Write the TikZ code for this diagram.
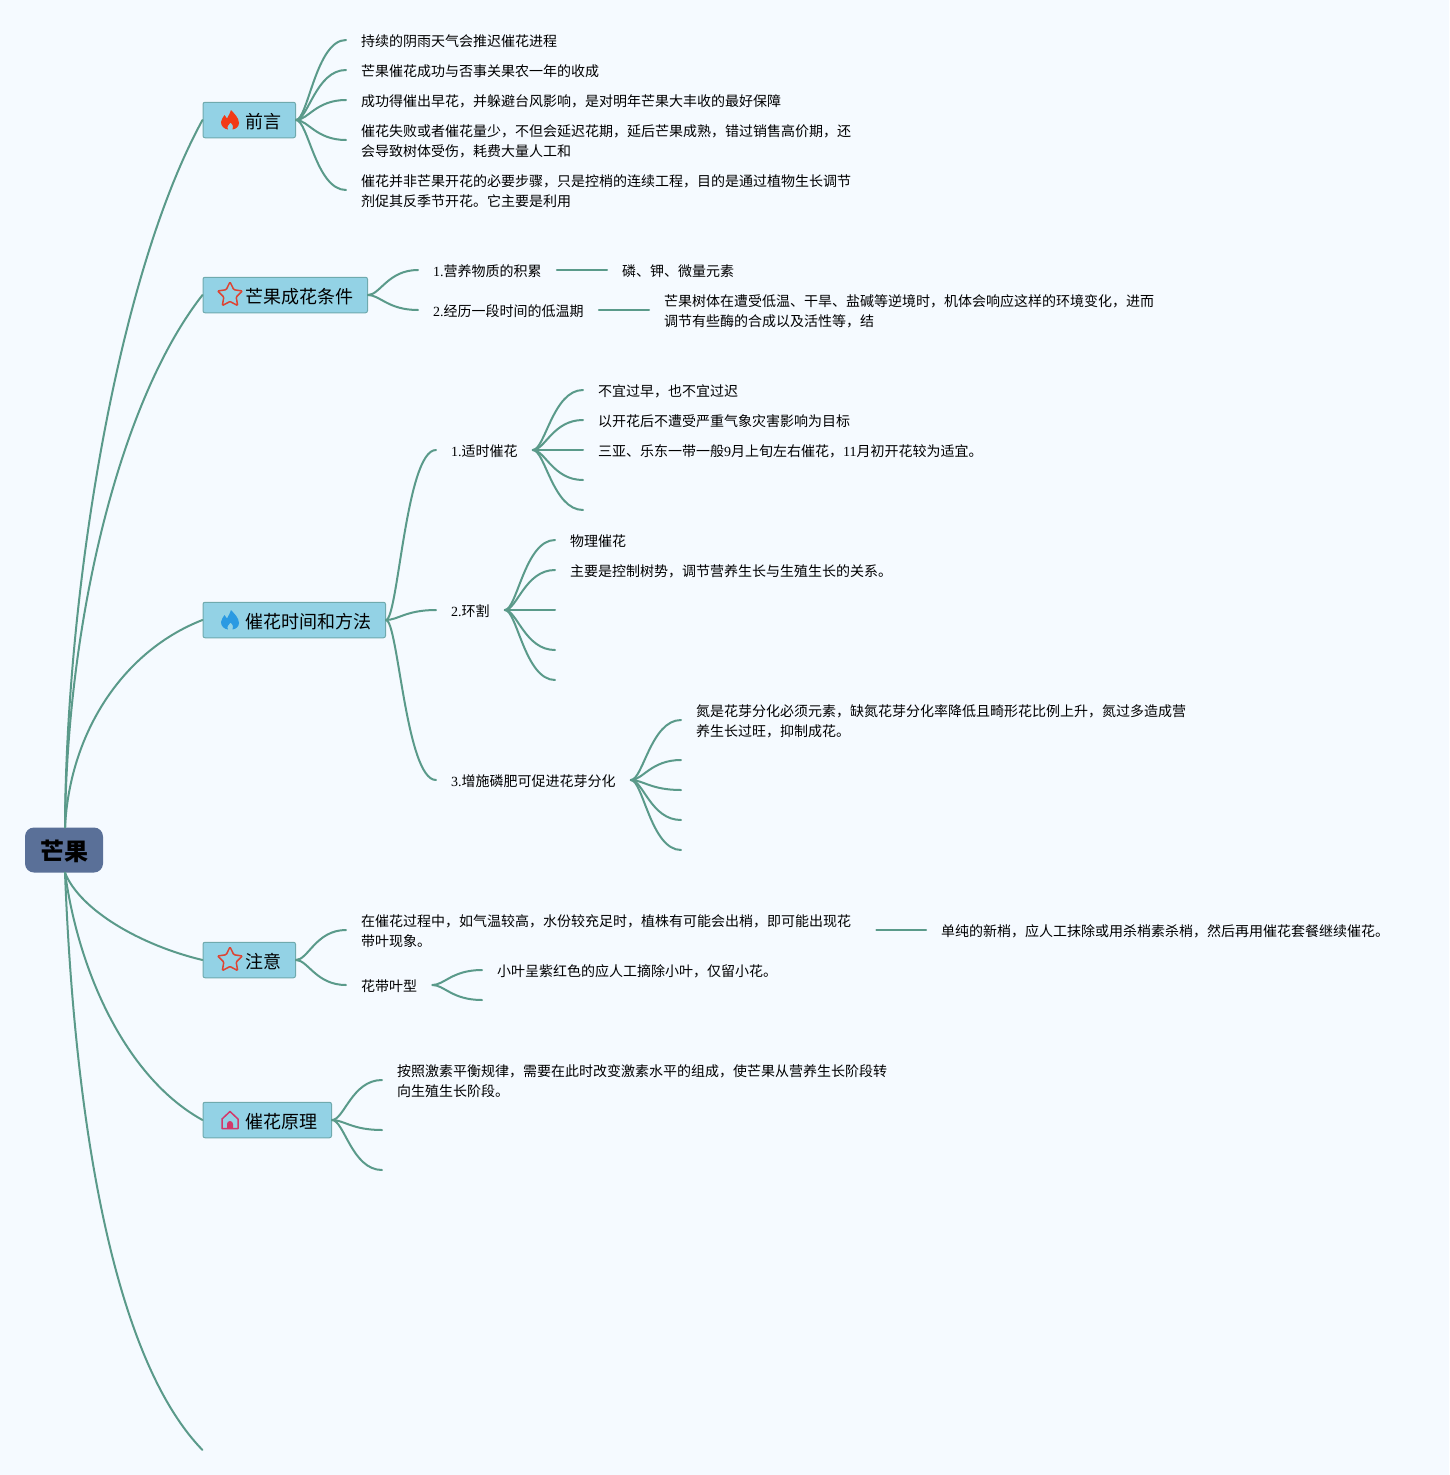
\documentclass[tikz,border=0pt]{standalone}
\usepackage{fontspec}
\setmainfont{Noto Sans CJK SC}
\newfontfamily\latn{Liberation Serif}
\newcommand{\lat}[1]{{\latn #1}}
\newcommand{\up}{\rule{0pt}{14.6pt}}
\usetikzlibrary{calc}
\definecolor{bgcol}{HTML}{F5FAFF}
\definecolor{linecol}{HTML}{5A9A8A}
\definecolor{topiccol}{HTML}{93D2E5}
\definecolor{topicline}{HTML}{6FAAAE}
\definecolor{rootcol}{HTML}{5A7098}
\definecolor{firecol}{HTML}{F23A16}
\definecolor{watercol}{HTML}{2A9AE2}
\definecolor{starcol}{HTML}{DD4433}
\definecolor{housecol}{HTML}{D2386A}
\tikzset{
    link/.style={draw=linecol,line width=2pt,line cap=round},
    branch/.style={link,to path={.. controls ([xshift=12pt]\tikztostart) and ([xshift=-30pt]\tikztotarget) .. (\tikztotarget)}},
    root/.style={fill=rootcol,rounded corners=9pt,minimum width=78pt,minimum height=45pt,inner sep=0pt,font=\bfseries\fontsize{24}{28}\selectfont,execute at begin node={\rule{0pt}{23pt}}},
    topic/.style={draw=topicline,line width=1pt,fill=topiccol,rounded corners=2pt,anchor=west,minimum height=35.5pt,inner ysep=0pt,inner xsep=14.5pt,font=\fontsize{18}{22}\selectfont,execute at begin node={\hspace*{27.5pt}\rule{0pt}{19pt}}},
    leaf/.style={anchor=west,inner xsep=15pt,inner ysep=0pt,align=left,font=\fontsize{14}{20}\selectfont,execute at begin node={\rule{0pt}{14.4pt}}},
    flame/.pic={
        \fill[#1] (-2,9.5) .. controls (-6,9) and (-9,6) .. (-9,2) .. controls (-9,-1) and (-6.5,-2.5) .. (-5.5,-5) .. controls (-4.5,-4) and (-3.5,-3) .. (-3,-1.5) .. controls (-1,-4.5) and (0,-7.5) .. (1,-10) .. controls (3.5,-7) and (9,-2.5) .. (9,3) .. controls (9,6.5) and (6,9) .. (2.5,9.5) .. controls (4,7) and (3,5) .. (0.5,2.5) .. controls (-1,5) and (-4,6.5) .. (-2,9.5) -- cycle;
    },
    starmark/.pic={
        \draw[starcol,line width=1.5pt,rounded corners=1pt] (-90:13) -- (-54:6.5) -- (-18:13) -- (18:6.5) -- (54:13) -- (90:6.5) -- (126:13) -- (162:6.5) -- (198:13) -- (234:6.5) -- cycle;
    },
    housemark/.pic={
        \draw[housecol,line width=1.5pt,line join=round] (-8,-1) -- (0,-8.5) -- (8,-1) -- (8,8.5) -- (-8,8.5) -- cycle;
        \fill[housecol] (-3,8.5) -- (-3,4) arc[start angle=180,end angle=360,radius=3] -- (3,8.5) -- cycle;
    },
}
\begin{document}
\begin{tikzpicture}[x=1pt,y=-1pt]
    \fill[bgcol] (0,0) rectangle (1449,1475);
    \useasboundingbox (0,0) rectangle (1449,1475);

    \node[root] (mg) at (64,850) {芒果};
    \node[topic] (qy) at (202.5,120) {前言};
    \node[topic] (tj) at (202.5,295) {芒果成花条件};
    \node[topic] (ff) at (202.5,620) {催花时间和方法};
    \node[topic] (zy) at (202.5,960) {注意};
    \node[topic] (yl) at (202.5,1120) {催花原理};
    \coordinate (end) at (202.5,1450);

    \pic at ([xshift=27.5pt]qy.west) {flame=firecol};
    \pic at ([xshift=27.5pt]tj.west) {starmark};
    \pic at ([xshift=27.5pt]ff.west) {flame=watercol};
    \pic at ([xshift=27.5pt]zy.west) {starmark};
    \pic at ([xshift=27.5pt]yl.west) {housemark};

    \draw[link] ([xshift=1pt]mg.north) .. controls (66,600) and (115,280) .. (qy.west);
    \draw[link] ([xshift=1pt]mg.north) .. controls (67,620) and (120,400) .. (tj.west);
    \draw[link] ([xshift=1pt]mg.north) .. controls (70,730) and (125,650) .. (ff.west);
    \draw[link] ([xshift=1pt]mg.south) .. controls (80,910) and (140,945) .. (zy.west);
    \draw[link] ([xshift=1pt]mg.south) .. controls (80,980) and (130,1080) .. (yl.west);
    \draw[link] ([xshift=1pt]mg.south) .. controls (75,1130) and (115,1360) .. (end);

    % qianyan
    \node[leaf] (qy1) at (346,40) {持续的阴雨天气会推迟催花进程};
    \node[leaf] (qy2) at (346,70) {芒果催花成功与否事关果农一年的收成};
    \node[leaf] (qy3) at (346,100) {成功得催出早花，并躲避台风影响，是对明年芒果大丰收的最好保障};
    \node[leaf] (qy4) at (346,140) {\up 催花失败或者催花量少，不但会延迟花期，延后芒果成熟，错过销售高价期，还\\会导致树体受伤，耗费大量人工和};
    \node[leaf] (qy5) at (346,190) {\up 催花并非芒果开花的必要步骤，只是控梢的连续工程，目的是通过植物生长调节\\剂促其反季节开花。它主要是利用};
    \foreach \n in {qy1,qy2,qy3,qy4,qy5}
        \draw[branch] (qy.east) to (\n.west);

    % tiaojian
    \node[leaf] (tj1) at (418,270) {\lat{1.}营养物质的积累};
    \node[leaf] (tj2) at (418,310) {\lat{2.}经历一段时间的低温期};
    \node[leaf] (tj3) at (607,270) {磷、钾、微量元素};
    \node[leaf] (tj4) at (649,310) {\up 芒果树体在遭受低温、干旱、盐碱等逆境时，机体会响应这样的环境变化，进而\\调节有些酶的合成以及活性等，结};
    \draw[branch] (tj.east) to (tj1.west);
    \draw[branch] (tj.east) to (tj2.west);
    \draw[link] (tj1.east) -- (tj3.west);
    \draw[link] (tj2.east) -- (tj4.west);

    % shijian he fangfa
    \node[leaf] (ff1) at (436,450) {\lat{1.}适时催花};
    \node[leaf] (ff2) at (436,610) {\lat{2.}环割};
    \node[leaf] (ff3) at (436,780) {\lat{3.}增施磷肥可促进花芽分化};
    \foreach \n in {ff1,ff2,ff3}
        \draw[branch] (ff.east) to (\n.west);

    \node[leaf] (ss1) at (583,390) {不宜过早，也不宜过迟};
    \node[leaf] (ss2) at (583,420) {以开花后不遭受严重气象灾害影响为目标};
    \node[leaf] (ss3) at (583,450) {三亚、乐东一带一般\lat{9}月上旬左右催花，\lat{11}月初开花较为适宜。};
    \coordinate (ss4) at (583,480);
    \coordinate (ss5) at (583,510);
    \foreach \n in {ss1.west,ss2.west,ss3.west,ss4,ss5}
        \draw[branch] (ff1.east) to (\n);

    \node[leaf] (hg1) at (555,540) {物理催花};
    \node[leaf] (hg2) at (555,570) {主要是控制树势，调节营养生长与生殖生长的关系。};
    \coordinate (hg3) at (555,610);
    \coordinate (hg4) at (555,650);
    \coordinate (hg5) at (555,680);
    \foreach \n in {hg1.west,hg2.west,hg3,hg4,hg5}
        \draw[branch] (ff2.east) to (\n);

    \node[leaf] (lf1) at (681,720) {\up 氮是花芽分化必须元素，缺氮花芽分化率降低且畸形花比例上升，氮过多造成营\\养生长过旺，抑制成花。};
    \coordinate (lf2) at (681,760);
    \coordinate (lf3) at (681,790);
    \coordinate (lf4) at (681,820);
    \coordinate (lf5) at (681,850);
    \foreach \n in {lf1.west,lf2,lf3,lf4,lf5}
        \draw[branch] (ff3.east) to (\n);

    % zhuyi
    \node[leaf] (zy1) at (346,930) {\up 在催花过程中，如气温较高，水份较充足时，植株有可能会出梢，即可能出现花\\带叶现象。};
    \node[leaf] (zy2) at (346,985) {花带叶型};
    \node[leaf] (zy3) at (926,930) {单纯的新梢，应人工抹除或用杀梢素杀梢，然后再用催花套餐继续催花。};
    \node[leaf] (zy4) at (482,970) {小叶呈紫红色的应人工摘除小叶，仅留小花。};
    \coordinate (zy5) at (482,1000);
    \draw[branch] (zy.east) to (zy1.west);
    \draw[branch] (zy.east) to (zy2.west);
    \draw[link] ([xshift=10pt]zy1.east) -- (zy3.west);
    \draw[branch] (zy2.east) to (zy4.west);
    \draw[branch] (zy2.east) to (zy5);

    % yuanli
    \node[leaf] (yl1) at (382,1080) {\up 按照激素平衡规律，需要在此时改变激素水平的组成，使芒果从营养生长阶段转\\向生殖生长阶段。};
    \coordinate (yl2) at (382,1130);
    \coordinate (yl3) at (382,1170);
    \foreach \n in {yl1.west,yl2,yl3}
        \draw[branch] (yl.east) to (\n);
\end{tikzpicture}
\end{document}
